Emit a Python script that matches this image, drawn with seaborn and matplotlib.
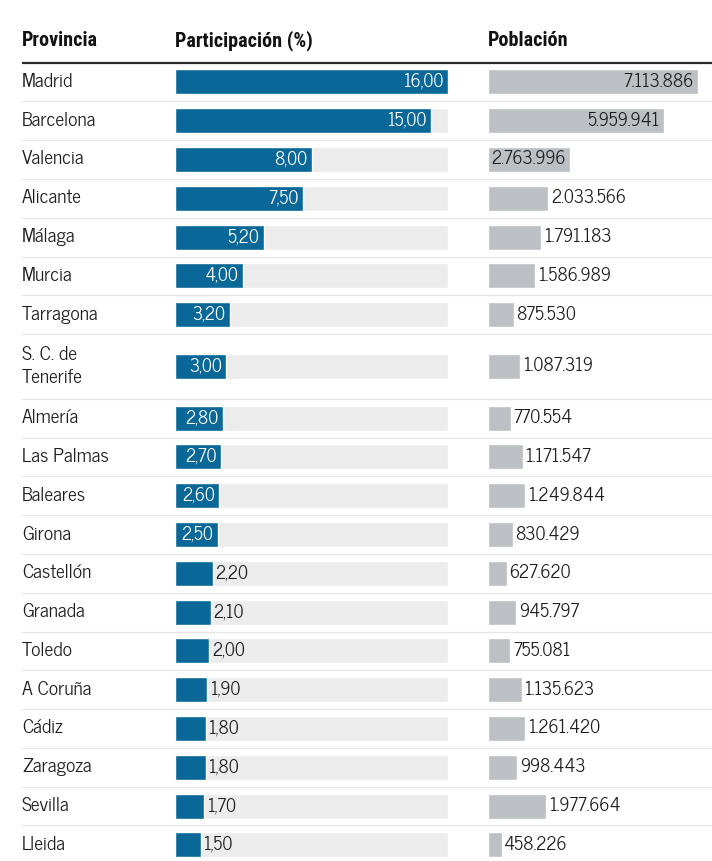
import matplotlib
matplotlib.use("Agg")
import matplotlib.pyplot as plt
import seaborn as sns
import numpy as np
import pandas as pd

provincias = ["Madrid", "Barcelona", "Valencia", "Alicante", "Málaga", "Murcia",
              "Tarragona", "S. C. de\nTenerife", "Almería", "Las Palmas", "Baleares",
              "Girona", "Castellón", "Granada", "Toledo", "A Coruña", "Cádiz",
              "Zaragoza", "Sevilla", "Lleida"]
participacion = [16.00, 15.00, 8.00, 7.50, 5.20, 4.00, 3.20, 3.00, 2.80, 2.70, 2.60,
                 2.50, 2.20, 2.10, 2.00, 1.90, 1.80, 1.80, 1.70, 1.50]
poblacion = [7113886, 5959941, 2763996, 2033566, 1791183, 1586989, 875530, 1087319,
             770554, 1171547, 1249844, 830429, 627620, 945797, 755081, 1135623,
             1261420, 998443, 1977664, 458226]
encabezados = ["Provincia", "Participación (%)", "Población"]

AZUL = "#0a6899"
GRIS = "#bcc0c4"
PISTA = "#ececec"
TEXTO = "#1e1e1e"

W, H = 712, 861
sns.set_style("white")
plt.rcParams["font.family"] = ["News Cycle", "Roboto Condensed", "DejaVu Sans"]

# alturas de fila en pixeles
alto = [64.6 if "\n" in p else 38.8 for p in provincias]
arriba = 62.5
bordes = arriba + np.concatenate([[0], np.cumsum(alto)])
centros = (bordes[:-1] + bordes[1:]) / 2

df = pd.DataFrame({"prov": provincias, "part": participacion, "pob": poblacion,
                   "y": centros, "pista": max(participacion)})

fig = plt.figure(figsize=(W / 100, H / 100), dpi=100)
base = fig.add_axes([0, 0, 1, 1])
base.set_xlim(0, W)
base.set_ylim(H, 0)
base.axis("off")

ancho = 25 / 38.8

ax1 = fig.add_axes([175 / W, 0, 273 / W, 1])
sns.barplot(data=df, x="pista", y="y", orient="h", native_scale=True, color=PISTA,
            width=ancho, saturation=1, ax=ax1)
sns.barplot(data=df, x="part", y="y", orient="h", native_scale=True, color=AZUL,
            width=ancho, saturation=1, ax=ax1)
ax1.set_xlim(0, max(participacion))

ax2 = fig.add_axes([488 / W, 0, 210 / W, 1])
sns.barplot(data=df, x="pob", y="y", orient="h", native_scale=True, color=GRIS,
            width=ancho, saturation=1, ax=ax2)
ax2.set_xlim(0, max(poblacion))

for ax in (ax1, ax2):
    ax.set_ylim(H, 0)
    ax.axis("off")
    ax.patch.set_alpha(0)

def fmt_pob(v):
    return f"{v:,}".replace(",", ".")

fs_num = 12.8
for _, r in df.iterrows():
    txt = f"{r.part:.2f}".replace(".", ",")
    if r.part >= 2.5:
        ax1.annotate(txt, (r.part, r.y), xytext=(-3, 0), textcoords="offset points",
                     ha="right", va="center", color="white", fontsize=fs_num)
    else:
        ax1.annotate(txt, (r.part, r.y), xytext=(2, 0), textcoords="offset points",
                     ha="left", va="center", color=TEXTO, fontsize=fs_num)
    if r.pob >= 2500000:
        ax2.annotate(fmt_pob(r.pob), (r.pob, r.y), xytext=(-3, 0), textcoords="offset points",
                     ha="right", va="center", color=TEXTO, fontsize=fs_num)
    else:
        ax2.annotate(fmt_pob(r.pob), (r.pob, r.y), xytext=(2, 0), textcoords="offset points",
                     ha="left", va="center", color=TEXTO, fontsize=fs_num)
    base.text(22, r.y, r.prov, ha="left", va="center", color=TEXTO, fontsize=14,
              linespacing=1.35)

for xh, t in zip([22, 175, 488], encabezados):
    base.text(xh, 41, t, ha="left", va="center", color="#111111", fontsize=14.5,
              fontweight="bold", family=["Roboto Condensed", "DejaVu Sans"])

base.plot([22, W], [bordes[0], bordes[0]], color="#2a2a2a", lw=1.6, solid_capstyle="butt")
for b in bordes[1:-1]:
    base.plot([22, W], [b, b], color="#e6e6e6", lw=0.9)

fig.savefig("out.png", dpi=100)
